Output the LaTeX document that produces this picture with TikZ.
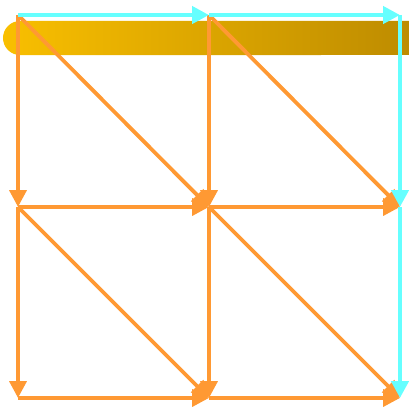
\documentclass[tikz,border=0pt]{standalone}
\usepackage{tikz}
\usetikzlibrary{arrows.meta}
\definecolor{EdgeOrange}{HTML}{FF9933}
\definecolor{EdgeCyan}{HTML}{66FFFF}
\definecolor{BarGold}{HTML}{F9BF00}
\definecolor{BarDark}{HTML}{BE8C00}
\begin{document}
\begin{tikzpicture}[
    x=0.025cm, y=0.025cm,
    pt/.style={coordinate},
    arr/.style={-{Triangle[length=0.42cm, width=0.42cm]}, draw=EdgeOrange, line width=0.095cm},
    carr/.style={arr, draw=EdgeCyan, line width=0.115cm}
  ]
    \useasboundingbox (0,0) rectangle (409,409);

    % Gold bar
    \shade[left color=BarGold, right color=BarDark]
      (409,388) -- (20,388) arc[start angle=90, end angle=270, radius=0.425cm] -- (409,354) -- cycle;

    % Grid points
    \node[pt] (a1) at (18,394) {};
    \node[pt] (a2) at (209,394) {};
    \node[pt] (a3) at (400,394) {};
    \node[pt] (b1) at (18,202) {};
    \node[pt] (b2) at (209,202) {};
    \node[pt] (b3) at (400,202) {};
    \node[pt] (c1) at (18,11) {};
    \node[pt] (c2) at (209,11) {};
    \node[pt] (c3) at (400,11) {};

    % Orange edges
    \draw[arr] (a1) -- (b1);
    \draw[arr] (b1) -- (c1);
    \draw[arr] (a2) -- (b2);
    \draw[arr] (b2) -- (c2);
    \draw[arr] (b1) -- (b2);
    \draw[arr] (b2) -- (b3);
    \draw[arr] (c1) -- (c2);
    \draw[arr] (c2) -- (c3);
    \draw[arr] (a1) -- (b2);
    \draw[arr] (a2) -- (b3);
    \draw[arr] (b1) -- (c2);
    \draw[arr] (b2) -- (c3);

    % Cyan path
    \draw[carr] (a1) -- (a2);
    \draw[carr] (a2) -- (a3);
    \draw[carr] (a3) -- (b3);
    \draw[carr] (b3) -- (c3);
  \end{tikzpicture}
\end{document}
